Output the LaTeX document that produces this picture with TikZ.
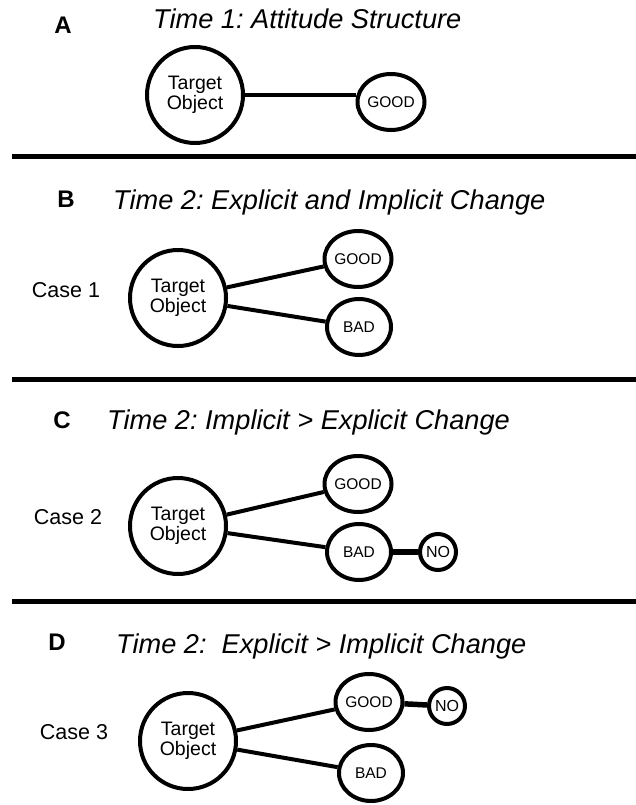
\documentclass[tikz,border=0pt]{standalone}
\usepackage{fontspec}
\setmainfont{Liberation Sans}
\usetikzlibrary{shapes.geometric}
\frenchspacing
\begin{document}
\begin{tikzpicture}[x=1pt,y=-1pt,
    target/.style={draw,circle,line width=4pt,minimum size=96pt,inner sep=0pt,
      align=center,font=\fontsize{19.5}{20}\selectfont},
    pole/.style={draw,ellipse,line width=4pt,minimum width=64pt,minimum height=56pt,
      inner sep=0pt,font=\fontsize{15.5}{16}\selectfont},
    nobox/.style={draw,circle,line width=4pt,minimum size=36pt,inner sep=0pt,
      font=\fontsize{16}{16}\selectfont},
    panel/.style={inner sep=0pt,font=\bfseries\fontsize{24}{24}\selectfont},
    heading/.style={inner sep=0pt,anchor=base west,font=\itshape\fontsize{27.2}{28}\selectfont},
    case/.style={inner sep=0pt,font=\fontsize{21.5}{22}\selectfont},
    link/.style={line width=4pt},
    nolink/.style={line width=5.5pt},
    rule/.style={line width=5pt}]
      \fill[white] (0,0) rectangle (636,805);
      \useasboundingbox (0,0) rectangle (636,805);
      % A
      \draw
        (63,25.5) node[panel] (A){A}
        (153,29) node[heading] (hA){Time 1: Attitude Structure}
        (195,95) node[target] (tA){Target\\Object}
        (391,102) node[pole] (gA){GOOD};
      \coordinate (rA) at (12,157);
      % B
      \draw
        (66,199.5) node[panel] (B){B}
        (113,209) node[heading] (hB){Time 2: Explicit and Implicit Change}
        (66,290) node[case] (cB){Case 1}
        (178,298) node[target] (tB){Target\\Object}
        (358,259) node[pole] (gB){GOOD}
        (359,327) node[pole] (bB){BAD};
      \coordinate (rB) at (12,379);
      % C
      \draw
        (62,420) node[panel] (C){C}
        (107,429) node[heading] (hC){Time 2: Implicit > Explicit Change}
        (68,517) node[case] (cC){Case 2}
        (178,526) node[target] (tC){Target\\Object}
        (358,484) node[pole] (gC){GOOD}
        (359,552) node[pole] (bC){BAD}
        (438,552) node[nobox] (nC){NO};
      \coordinate (rC) at (12,601);
      % D
      \draw
        (57,642.5) node[panel] (D){D}
        (116,653) node[heading] (hD){Time 2:\ \ Explicit > Implicit Change}
        (74,732) node[case] (cD){Case 3}
        (188,741) node[target] (tD){Target\\Object}
        (369,702) node[pole] (gD){GOOD}
        (447,706) node[nobox] (nD){NO}
        (371,773) node[pole] (bD){BAD};
      \begin{scope}[link]
        \draw (tA) to (tA -| gA.west);
        \draw (tB) to (gB);
        \draw (tB) to (bB);
        \draw (tC) to (gC);
        \draw (tC) to (bC);
        \draw (tD) to (gD);
        \draw (tD) to (bD);
      \end{scope}
      \begin{scope}[nolink]
        \draw (bC) to (nC);
        \draw (gD) to (nD);
      \end{scope}
      \begin{scope}[rule]
        \draw (rA) to (rA -| 636,0);
        \draw (rB) to (rB -| 636,0);
        \draw (rC) to (rC -| 636,0);
      \end{scope}
    \end{tikzpicture}
\end{document}
